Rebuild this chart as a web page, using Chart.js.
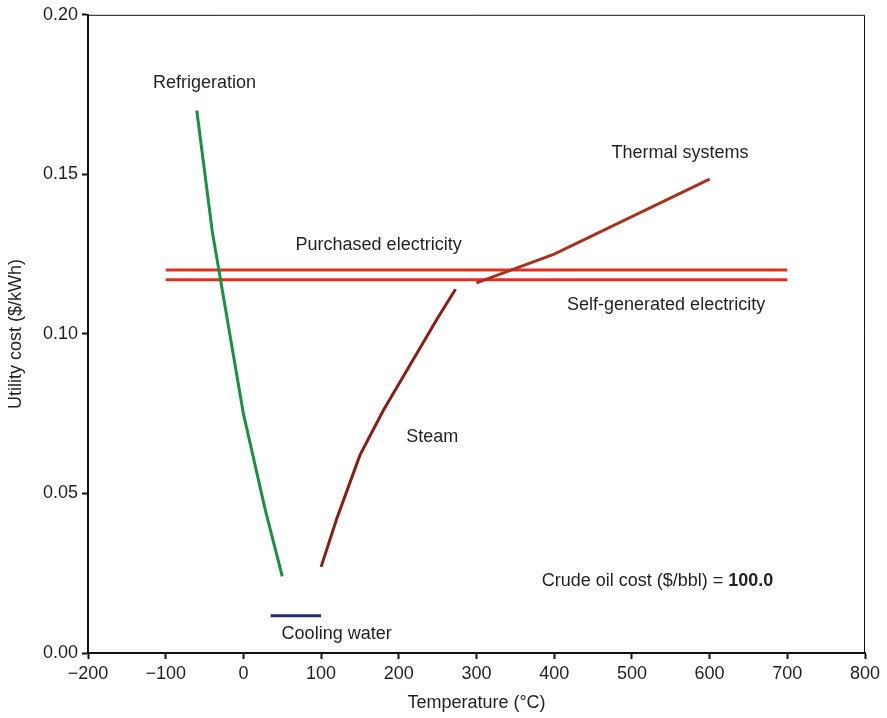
<!DOCTYPE html>
<html>
<head>
<meta charset="utf-8">
<script src="https://cdn.jsdelivr.net/npm/chart.js@4/dist/chart.umd.min.js"></script>
<style>
  html, body { margin: 0; padding: 0; background: #fff; }
  #wrap { width: 887px; height: 718px; }
</style>
</head>
<body>
<div id="wrap"><canvas id="utility"></canvas></div>
<script>
// temperatures (°C) and utility costs ($/kWh)
const refrigT = [-60, -40, 0, 28, 50];
const refrigCost = [0.170, 0.132, 0.075, 0.045, 0.024];
const coolingT = [35, 100];
const coolingCost = [0.0117, 0.0117];
const steamT = [100, 120, 150, 180, 250, 273];
const steamCost = [0.027, 0.042, 0.062, 0.076, 0.105, 0.114];
const thermalT = [300, 400, 600];
const thermalCost = [0.116, 0.125, 0.1485];
const elecT = [-100, 700];
const purchasedCost = [0.120, 0.120];
const selfGenCost = [0.117, 0.117];

const xTicks = [-200, -100, 0, 100, 200, 300, 400, 500, 600, 700, 800];
const yTicks = [0, 0.05, 0.10, 0.15, 0.20];

const crudeOilCost = "100.0";

// text labels anchored at data coordinates
const labels = [
    { text: "Refrigeration", x: -50, y: 0.1785 },
    { text: "Purchased electricity", x: 174, y: 0.128 },
    { text: "Thermal systems", x: 562, y: 0.1567 },
    { text: "Self-generated electricity", x: 544, y: 0.1092 },
    { text: "Steam", x: 243, y: 0.0676 },
    { text: "Cooling water", x: 120, y: 0.006 },
];

const FONT = "'Liberation Sans', Arial, Helvetica, sans-serif";
const TEXT = "#231f20";

function pts(xs, ys) {
    return xs.map((x, i) => ({ x: x, y: ys[i] }));
}

function series(label, xs, ys, color) {
    return {
        label: label,
        data: pts(xs, ys),
        showLine: true,
        borderColor: color,
        backgroundColor: color,
        borderWidth: 3,
        pointRadius: 0,
        tension: 0,
    };
}

const textPlugin = {
    id: "textLabels",
    afterDatasetsDraw(chart) {
        const ctx = chart.ctx;
        const xs = chart.scales.x;
        const ys = chart.scales.y;
        const area = chart.chartArea;
        ctx.save();
        // thin top / right frame
        ctx.strokeStyle = "#111";
        ctx.lineWidth = 1;
        ctx.beginPath();
        ctx.moveTo(area.left, area.top + 0.5);
        ctx.lineTo(area.right - 0.5, area.top + 0.5);
        ctx.lineTo(area.right - 0.5, area.bottom);
        ctx.stroke();

        ctx.fillStyle = TEXT;
        ctx.font = "18px " + FONT;
        ctx.textAlign = "center";
        ctx.textBaseline = "middle";
        labels.forEach((l) => {
            ctx.fillText(l.text, xs.getPixelForValue(l.x), ys.getPixelForValue(l.y));
        });

        // crude oil note with bold value
        const a = "Crude oil cost ($/bbl) = ";
        ctx.font = "18px " + FONT;
        const wa = ctx.measureText(a).width;
        ctx.font = "bold 18px " + FONT;
        const wb = ctx.measureText(crudeOilCost).width;
        const cx = xs.getPixelForValue(533);
        const cy = ys.getPixelForValue(0.0227);
        const x0 = cx - (wa + wb) / 2;
        ctx.textAlign = "left";
        ctx.font = "18px " + FONT;
        ctx.fillText(a, x0, cy);
        ctx.font = "bold 18px " + FONT;
        ctx.fillText(crudeOilCost, x0 + wa, cy);
        ctx.restore();
    },
};

const ctx = document.getElementById("utility").getContext("2d");
const chart = new Chart(ctx, {
    type: "scatter",
    data: {
        datasets: [
            series("Refrigeration", refrigT, refrigCost, "#17923f"),
            series("Cooling water", coolingT, coolingCost, "#2b2a7a"),
            series("Steam", steamT, steamCost, "#8b1e14"),
            series("Thermal systems", thermalT, thermalCost, "#a8321e"),
            series("Purchased electricity", elecT, purchasedCost, "#e0301e"),
            series("Self-generated electricity", elecT, selfGenCost, "#e0301e"),
        ],
    },
    options: {
        responsive: true,
        maintainAspectRatio: false,
        animation: false,
        layout: { padding: { top: 10, right: 22, left: 0, bottom: 0 } },
        plugins: {
            legend: { display: false },
            tooltip: { enabled: false },
        },
        scales: {
            x: {
                type: "linear",
                min: -200,
                max: 800,
                afterBuildTicks: (s) => { s.ticks = xTicks.map((v) => ({ value: v })); },
                afterFit: (s) => { s.height = 65; },
                ticks: {
                    color: TEXT,
                    font: { family: FONT, size: 18 },
                    padding: 4,
                    maxRotation: 0,
                    callback: (v) => String(v).replace("-", "\u2212"),
                },
                grid: { display: true, drawOnChartArea: false, drawTicks: true, tickLength: 6, color: "#111", tickWidth: 2 },
                border: { display: true, color: "#111", width: 2 },
                title: {
                    display: true,
                    text: "Temperature (\u00b0C)",
                    color: TEXT,
                    font: { family: FONT, size: 18 },
                    padding: { top: 5, bottom: 4 },
                },
            },
            y: {
                type: "linear",
                min: 0,
                max: 0.2,
                afterBuildTicks: (s) => { s.ticks = yTicks.map((v) => ({ value: v })); },
                afterFit: (s) => { s.width = 88; },
                ticks: {
                    color: TEXT,
                    font: { family: FONT, size: 18 },
                    padding: 4,
                    callback: (v) => Number(v).toFixed(2),
                },
                grid: { display: true, drawOnChartArea: false, drawTicks: true, tickLength: 6, color: "#111", tickWidth: 2 },
                border: { display: true, color: "#111", width: 2 },
                title: {
                    display: true,
                    text: "Utility cost ($/kWh)",
                    color: TEXT,
                    font: { family: FONT, size: 18 },
                    padding: { top: 5, bottom: 0 },
                },
            },
        },
    },
    plugins: [textPlugin],
});
</script>
</body>
</html>
